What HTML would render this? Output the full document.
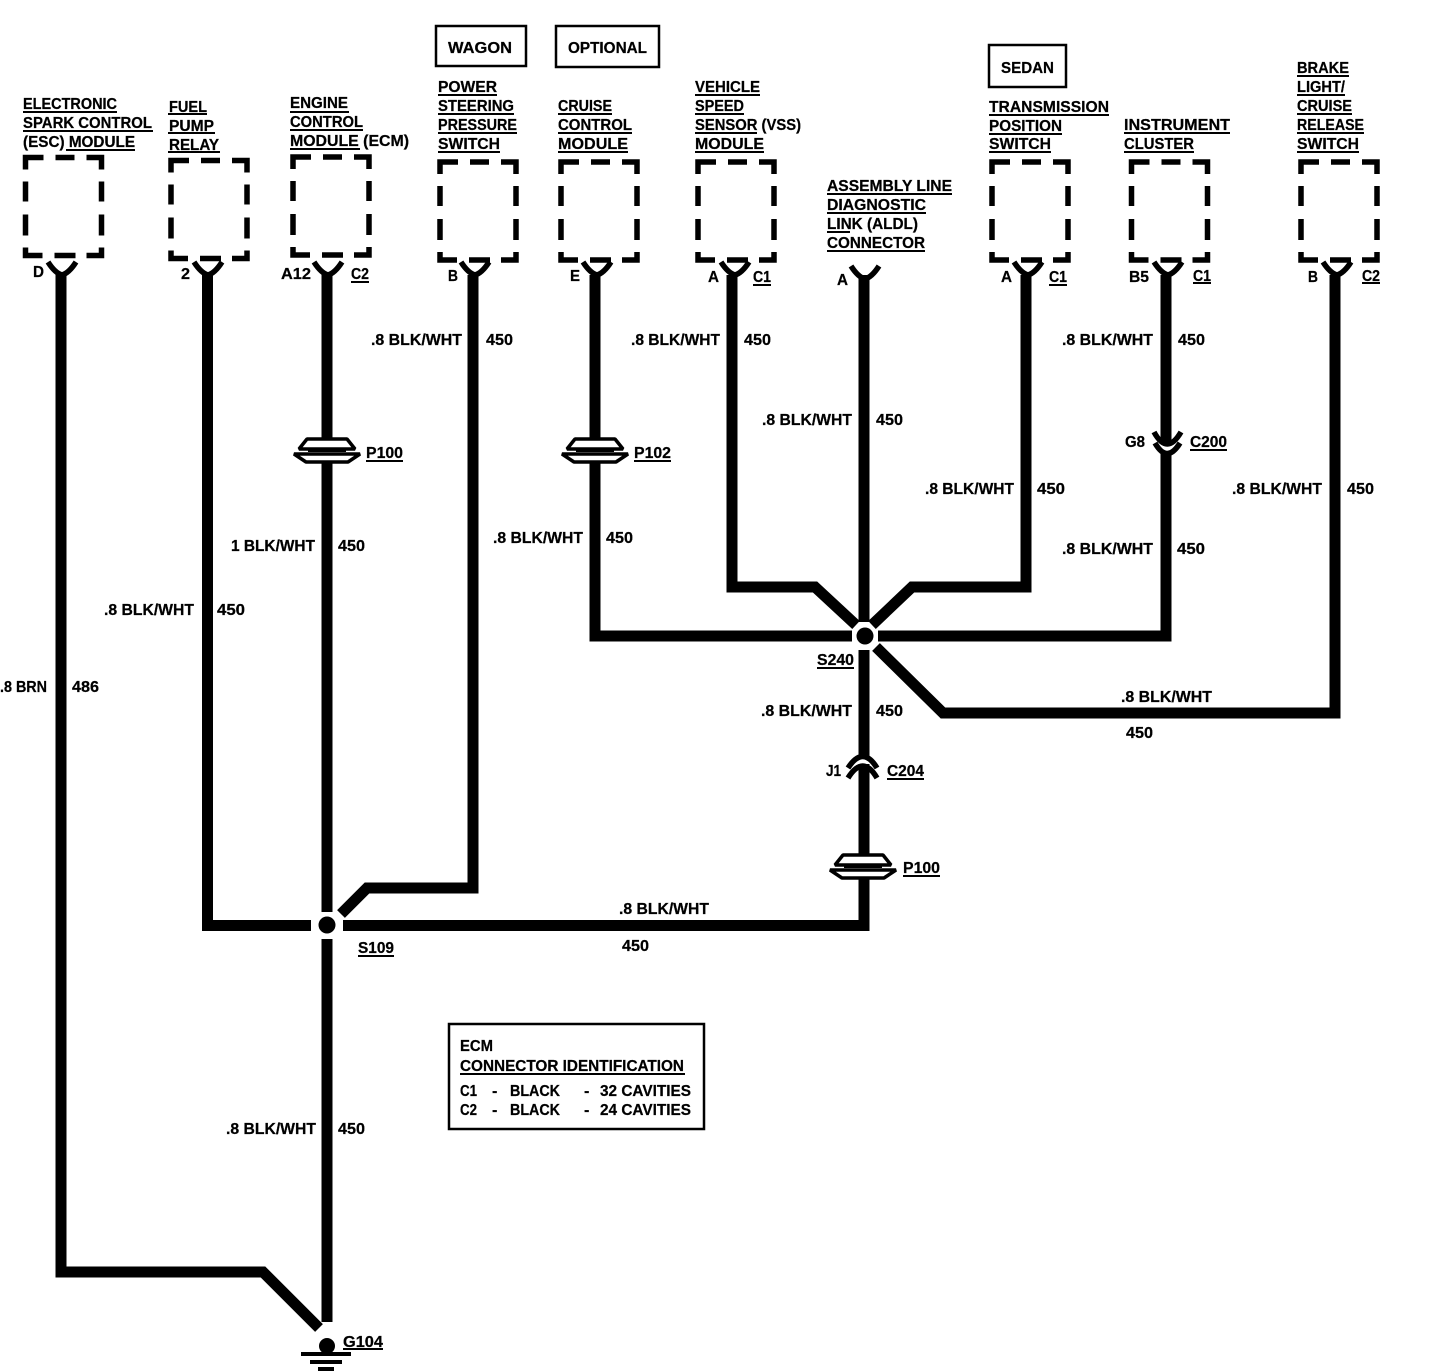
<!DOCTYPE html>
<html><head><meta charset="utf-8"><title>Diagram</title>
<style>
html,body{margin:0;padding:0;background:#fff}
svg{display:block}
text{font-family:"Liberation Sans",sans-serif;font-weight:bold;font-size:16px;fill:#000;stroke:#000;stroke-width:.25}
.w{fill:none;stroke:#000;stroke-width:11;stroke-linejoin:miter}
.u{stroke:#000;stroke-width:2}
.b{fill:none;stroke:#000;stroke-width:5.5}
.r{fill:#fff;stroke:#000;stroke-width:2.5}
.c{fill:none;stroke:#000;stroke-width:5.5}
.p{fill:#fff;stroke:#000;stroke-width:3.5;stroke-linejoin:bevel}
</style></head><body>
<svg width="1440" height="1372" viewBox="0 0 1440 1372" xmlns="http://www.w3.org/2000/svg">
<defs>
<path id="box" class="b" d="M2 14V2H20M32 2H51M63 2H78V14M2 26V46M78 26V46M2 59V80M78 59V80M2 92V100H19M31 100H52M63 100H78V92"/>
<path id="y" class="c" d="M-14 -10Q-7 1 0 3Q7 1 14 -10"/>
<g id="pc"><rect x="-35" y="-5" width="70" height="8" fill="#fff"/><path class="p" d="M-20 -13H20L28 -3H-28Z"/><path class="p" d="M-33 2H33L21 10H-21Z"/><rect x="-19" y="-3" width="38" height="3"/></g>
</defs>
<!-- wires -->
<path class="w" d="M61 272V1272H263L319 1328"/>
<path class="w" d="M327 1250V1322"/>
<path class="w" d="M207.500 272V925.500H311"/>
<path class="w" d="M327 272V912M327 939V1250"/>
<path class="w" d="M473 275V888H367L341 914"/>
<path class="w" d="M343 925.500H864V650"/>
<path class="w" d="M864 275V622"/>
<path class="w" d="M595 275V636H852"/>
<path class="w" d="M732 275V587H815L856 625"/>
<path class="w" d="M1026 275V587H912L872 625"/>
<path class="w" d="M1166 275V442M1166 452V636H878"/>
<path class="w" d="M1335 275V713H943L876 647"/>
<circle cx="327" cy="925" r="8.500"/>
<circle cx="865" cy="636" r="8.500"/>
<circle cx="327" cy="1346" r="8"/>
<path d="M301 1354H351M310 1362H342M318 1369H334" stroke="#000" stroke-width="4"/>
<!-- boxes -->
<use href="#box" x="23.500" y="155.500"/><use href="#box" x="169" y="158.500"/><use href="#box" x="291" y="155"/>
<use href="#box" x="438" y="160"/><use href="#box" x="559" y="160"/><use href="#box" x="696" y="160"/>
<use href="#box" x="990" y="160"/><use href="#box" x="1129.500" y="160"/><use href="#box" x="1299" y="160"/>
<!-- connectors -->
<use href="#y" x="62" y="272"/><use href="#y" x="208" y="272"/><use href="#y" x="328" y="272"/>
<use href="#y" x="475" y="272"/><use href="#y" x="597" y="272"/><use href="#y" x="735" y="272"/>
<use href="#y" x="865" y="276"/><use href="#y" x="1028" y="272"/><use href="#y" x="1168" y="272"/><use href="#y" x="1337" y="272"/>
<use href="#pc" x="327" y="452"/><use href="#pc" x="595" y="452"/><use href="#pc" x="863" y="868"/>
<rect x="855" y="759" width="18" height="5" fill="#fff"/>
<path class="c" d="M848 768Q863 745 877 768"/>
<path class="c" d="M848 778Q863 754 877 778"/>
<path class="c" d="M1154 432Q1167 456 1181 432"/>
<path class="c" d="M1155 443Q1167 464 1180 443"/>
<!-- tag boxes -->
<rect class="r" x="436" y="26" width="90" height="40"/>
<rect class="r" x="556" y="26" width="103" height="41"/>
<rect class="r" x="989" y="45" width="77" height="42"/>
<rect class="r" x="449" y="1024" width="255" height="105"/>
<text x="448" y="53" textLength="64" lengthAdjust="spacingAndGlyphs">WAGON</text>
<text x="568" y="53" textLength="79" lengthAdjust="spacingAndGlyphs">OPTIONAL</text>
<text x="1001" y="73" textLength="53" lengthAdjust="spacingAndGlyphs">SEDAN</text>
<!-- module labels -->
<text x="23" y="109" textLength="94" lengthAdjust="spacingAndGlyphs">ELECTRONIC</text>
<text x="23" y="128" textLength="129" lengthAdjust="spacingAndGlyphs">SPARK CONTROL</text>
<text x="23" y="147" textLength="112" lengthAdjust="spacingAndGlyphs">(ESC) MODULE</text>
<path class="u" d="M23 112H117M23 131H153M66 150H135"/>
<text x="169" y="112" textLength="38" lengthAdjust="spacingAndGlyphs">FUEL</text>
<text x="169" y="131" textLength="45" lengthAdjust="spacingAndGlyphs">PUMP</text>
<text x="169" y="150" textLength="50" lengthAdjust="spacingAndGlyphs">RELAY</text>
<path class="u" d="M168 114H207M168 133H215M168 152H220"/>
<text x="290" y="108" textLength="58" lengthAdjust="spacingAndGlyphs">ENGINE</text>
<text x="290" y="127" textLength="73" lengthAdjust="spacingAndGlyphs">CONTROL</text>
<text x="290" y="146" textLength="119" lengthAdjust="spacingAndGlyphs">MODULE (ECM)</text>
<path class="u" d="M290 112H349M290 130H363M290 149H360"/>
<text x="438" y="92" textLength="59" lengthAdjust="spacingAndGlyphs">POWER</text>
<text x="438" y="111" textLength="76" lengthAdjust="spacingAndGlyphs">STEERING</text>
<text x="438" y="130" textLength="79" lengthAdjust="spacingAndGlyphs">PRESSURE</text>
<text x="438" y="149" textLength="62" lengthAdjust="spacingAndGlyphs">SWITCH</text>
<path class="u" d="M438 95H497M438 114H514M438 133H517M438 152H500"/>
<text x="558" y="111" textLength="54" lengthAdjust="spacingAndGlyphs">CRUISE</text>
<text x="558" y="130" textLength="74" lengthAdjust="spacingAndGlyphs">CONTROL</text>
<text x="558" y="149" textLength="70" lengthAdjust="spacingAndGlyphs">MODULE</text>
<path class="u" d="M558 114H612M558 133H632M558 152H628"/>
<text x="695" y="92" textLength="65" lengthAdjust="spacingAndGlyphs">VEHICLE</text>
<text x="695" y="111" textLength="49" lengthAdjust="spacingAndGlyphs">SPEED</text>
<text x="695" y="130" textLength="106" lengthAdjust="spacingAndGlyphs">SENSOR (VSS)</text>
<text x="695" y="149" textLength="69" lengthAdjust="spacingAndGlyphs">MODULE</text>
<path class="u" d="M695 95H760M695 114H744M695 133H757M695 152H764"/>
<text x="827" y="191" textLength="125" lengthAdjust="spacingAndGlyphs">ASSEMBLY LINE</text>
<text x="827" y="210" textLength="99" lengthAdjust="spacingAndGlyphs">DIAGNOSTIC</text>
<text x="827" y="229" textLength="91" lengthAdjust="spacingAndGlyphs">LINK (ALDL)</text>
<text x="827" y="248" textLength="98" lengthAdjust="spacingAndGlyphs">CONNECTOR</text>
<path class="u" d="M827 194H952M827 213H926M827 232H850M827 251H925"/>
<text x="989" y="112" textLength="120" lengthAdjust="spacingAndGlyphs">TRANSMISSION</text>
<text x="989" y="131" textLength="73" lengthAdjust="spacingAndGlyphs">POSITION</text>
<text x="989" y="149" textLength="62" lengthAdjust="spacingAndGlyphs">SWITCH</text>
<path class="u" d="M989 115H1109M989 134H1062M989 152H1051"/>
<text x="1124" y="130" textLength="106" lengthAdjust="spacingAndGlyphs">INSTRUMENT</text>
<text x="1124" y="149" textLength="70" lengthAdjust="spacingAndGlyphs">CLUSTER</text>
<path class="u" d="M1124 133H1230M1124 152H1194"/>
<text x="1297" y="73" textLength="52" lengthAdjust="spacingAndGlyphs">BRAKE</text>
<text x="1297" y="92" textLength="48" lengthAdjust="spacingAndGlyphs">LIGHT/</text>
<text x="1297" y="111" textLength="55" lengthAdjust="spacingAndGlyphs">CRUISE</text>
<text x="1297" y="130" textLength="67" lengthAdjust="spacingAndGlyphs">RELEASE</text>
<text x="1297" y="149" textLength="62" lengthAdjust="spacingAndGlyphs">SWITCH</text>
<path class="u" d="M1297 76H1349M1297 95H1345M1297 114H1352M1297 133H1364M1297 152H1359"/>
<!-- pins -->
<text x="33" y="277" textLength="11" lengthAdjust="spacingAndGlyphs">D</text>
<text x="181" y="279" textLength="9" lengthAdjust="spacingAndGlyphs">2</text>
<text x="281" y="279" textLength="30" lengthAdjust="spacingAndGlyphs">A12</text>
<text x="351" y="279" textLength="18" lengthAdjust="spacingAndGlyphs">C2</text>
<text x="448" y="281" textLength="10" lengthAdjust="spacingAndGlyphs">B</text>
<text x="570" y="281" textLength="10" lengthAdjust="spacingAndGlyphs">E</text>
<text x="708" y="282" textLength="11" lengthAdjust="spacingAndGlyphs">A</text>
<text x="753" y="282" textLength="18" lengthAdjust="spacingAndGlyphs">C1</text>
<text x="837" y="285" textLength="11" lengthAdjust="spacingAndGlyphs">A</text>
<text x="1001" y="282" textLength="11" lengthAdjust="spacingAndGlyphs">A</text>
<text x="1049" y="282" textLength="18" lengthAdjust="spacingAndGlyphs">C1</text>
<text x="1129" y="282" textLength="20" lengthAdjust="spacingAndGlyphs">B5</text>
<text x="1193" y="281" textLength="18" lengthAdjust="spacingAndGlyphs">C1</text>
<text x="1308" y="282" textLength="10" lengthAdjust="spacingAndGlyphs">B</text>
<text x="1362" y="281" textLength="18" lengthAdjust="spacingAndGlyphs">C2</text>
<path class="u" d="M351 282H369M753 285H771M1049 285H1067M1193 283H1211M1362 283H1380"/>
<!-- wire labels -->
<text x="371" y="345" textLength="91" lengthAdjust="spacingAndGlyphs">.8 BLK/WHT</text><text x="486" y="345" textLength="27" lengthAdjust="spacingAndGlyphs">450</text>
<text x="631" y="345" textLength="89" lengthAdjust="spacingAndGlyphs">.8 BLK/WHT</text><text x="744" y="345" textLength="27" lengthAdjust="spacingAndGlyphs">450</text>
<text x="762" y="425" textLength="90" lengthAdjust="spacingAndGlyphs">.8 BLK/WHT</text><text x="876" y="425" textLength="27" lengthAdjust="spacingAndGlyphs">450</text>
<text x="1062" y="345" textLength="91" lengthAdjust="spacingAndGlyphs">.8 BLK/WHT</text><text x="1178" y="345" textLength="27" lengthAdjust="spacingAndGlyphs">450</text>
<text x="366" y="458" textLength="37" lengthAdjust="spacingAndGlyphs">P100</text>
<text x="634" y="458" textLength="37" lengthAdjust="spacingAndGlyphs">P102</text>
<text x="1125" y="447" textLength="20" lengthAdjust="spacingAndGlyphs">G8</text>
<text x="1190" y="447" textLength="37" lengthAdjust="spacingAndGlyphs">C200</text>
<text x="925" y="494" textLength="89" lengthAdjust="spacingAndGlyphs">.8 BLK/WHT</text><text x="1037" y="494" textLength="28" lengthAdjust="spacingAndGlyphs">450</text>
<text x="1232" y="494" textLength="90" lengthAdjust="spacingAndGlyphs">.8 BLK/WHT</text><text x="1347" y="494" textLength="27" lengthAdjust="spacingAndGlyphs">450</text>
<text x="1062" y="554" textLength="91" lengthAdjust="spacingAndGlyphs">.8 BLK/WHT</text><text x="1177" y="554" textLength="28" lengthAdjust="spacingAndGlyphs">450</text>
<text x="493" y="543" textLength="90" lengthAdjust="spacingAndGlyphs">.8 BLK/WHT</text><text x="606" y="543" textLength="27" lengthAdjust="spacingAndGlyphs">450</text>
<text x="231" y="551" textLength="84" lengthAdjust="spacingAndGlyphs">1 BLK/WHT</text><text x="338" y="551" textLength="27" lengthAdjust="spacingAndGlyphs">450</text>
<text x="104" y="615" textLength="90" lengthAdjust="spacingAndGlyphs">.8 BLK/WHT</text><text x="217" y="615" textLength="28" lengthAdjust="spacingAndGlyphs">450</text>
<text x="0" y="692" textLength="47" lengthAdjust="spacingAndGlyphs">.8 BRN</text><text x="72" y="692" textLength="27" lengthAdjust="spacingAndGlyphs">486</text>
<text x="817" y="665" textLength="37" lengthAdjust="spacingAndGlyphs">S240</text>
<text x="1121" y="702" textLength="91" lengthAdjust="spacingAndGlyphs">.8 BLK/WHT</text><text x="1126" y="738" textLength="27" lengthAdjust="spacingAndGlyphs">450</text>
<text x="761" y="716" textLength="91" lengthAdjust="spacingAndGlyphs">.8 BLK/WHT</text><text x="876" y="716" textLength="27" lengthAdjust="spacingAndGlyphs">450</text>
<text x="826" y="776" textLength="15" lengthAdjust="spacingAndGlyphs">J1</text>
<text x="887" y="776" textLength="37" lengthAdjust="spacingAndGlyphs">C204</text>
<text x="903" y="873" textLength="37" lengthAdjust="spacingAndGlyphs">P100</text>
<text x="619" y="914" textLength="90" lengthAdjust="spacingAndGlyphs">.8 BLK/WHT</text><text x="622" y="951" textLength="27" lengthAdjust="spacingAndGlyphs">450</text>
<text x="358" y="953" textLength="36" lengthAdjust="spacingAndGlyphs">S109</text>
<text x="226" y="1134" textLength="90" lengthAdjust="spacingAndGlyphs">.8 BLK/WHT</text><text x="338" y="1134" textLength="27" lengthAdjust="spacingAndGlyphs">450</text>
<text x="343" y="1347" textLength="40" lengthAdjust="spacingAndGlyphs">G104</text>
<path class="u" d="M366 461H403M634 461H671M1190 450H1227M817 668H854M887 779H924M903 876H940M358 956H394M343 1349H383"/>
<!-- ECM table -->
<text x="460" y="1051" textLength="33" lengthAdjust="spacingAndGlyphs">ECM</text>
<text x="460" y="1071" textLength="224" lengthAdjust="spacingAndGlyphs">CONNECTOR IDENTIFICATION</text>
<path class="u" d="M460 1074H685"/>
<text x="460" y="1096" textLength="17" lengthAdjust="spacingAndGlyphs">C1</text><text x="492" y="1096">-</text>
<text x="510" y="1096" textLength="50" lengthAdjust="spacingAndGlyphs">BLACK</text><text x="584" y="1096">-</text>
<text x="600" y="1096" textLength="91" lengthAdjust="spacingAndGlyphs">32 CAVITIES</text>
<text x="460" y="1115" textLength="17" lengthAdjust="spacingAndGlyphs">C2</text><text x="492" y="1115">-</text>
<text x="510" y="1115" textLength="50" lengthAdjust="spacingAndGlyphs">BLACK</text><text x="584" y="1115">-</text>
<text x="600" y="1115" textLength="91" lengthAdjust="spacingAndGlyphs">24 CAVITIES</text>
</svg>
</body></html>
